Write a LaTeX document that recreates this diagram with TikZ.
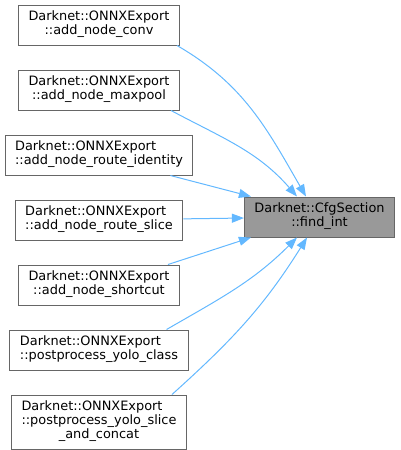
\documentclass[tikz,border=0pt]{standalone}
\usepackage{fontspec}
\setmainfont{DejaVu Sans}
\usepackage{tikz}
\usetikzlibrary{positioning, arrows.meta}
\definecolor{edgeblue}{HTML}{63B8FF}
\definecolor{boxgray}{HTML}{666666}
\definecolor{hlgray}{HTML}{999999}
\newcommand{\dlabel}[2]{\begin{tabular}{@{}l@{}}#1\\\multicolumn{1}{@{}c@{}}{#2}\end{tabular}}

\begin{document}
\begin{tikzpicture}[x=1pt, y=-1pt,
    caller/.style={rectangle, draw=boxgray, line width=1pt, fill=white, minimum height=40pt,
                   inner xsep=10pt, inner ysep=6pt, font=\fontsize{12.9}{14}\selectfont},
    callee/.style={caller, fill=hlgray},
    edge/.style={-{Triangle[length=12pt, width=9pt]}, line width=1pt, edgeblue}
  ]
  \useasboundingbox (0,0) rectangle (401,450);
  \node[caller] (conv) at (99,25) {\dlabel{Darknet::ONNXExport}{::add\_node\_conv}};
  \node[caller, below=24pt of conv] (maxpool) {\dlabel{Darknet::ONNXExport}{::add\_node\_maxpool}};
  \node[caller, below=24pt of maxpool] (ident) {\dlabel{Darknet::ONNXExport}{::add\_node\_route\_identity}};
  \node[caller, below=24pt of ident] (slice) {\dlabel{Darknet::ONNXExport}{::add\_node\_route\_slice}};
  \node[caller, below=24pt of slice] (short) {\dlabel{Darknet::ONNXExport}{::add\_node\_shortcut}};
  \node[caller, below=24pt of short] (yclass) {\dlabel{Darknet::ONNXExport}{::postprocess\_yolo\_class}};
  \node[caller, below=24pt of yclass] (yslice) {\dlabel{Darknet::ONNXExport\\::postprocess\_yolo\_slice}{\_and\_concat}};
  \node[callee] (findint) at (319.5,217) {\dlabel{Darknet::CfgSection}{::find\_int}};
  \draw[edge] ([xshift=-3pt]conv.south east) to[out=-30, in=120] ([xshift=-13.5pt]findint.north);
  \draw[edge] ([xshift=-9pt]maxpool.south east) to[out=-28, in=131] ([xshift=-22.5pt]findint.north);
  \draw[edge] ([xshift=-23pt]ident.south east) -- ([xshift=7pt]findint.north west);
  \draw[edge] (slice) -- (findint);
  \draw[edge] ([xshift=-12pt]short.north east) -- ([xshift=7pt]findint.south west);
  \draw[edge] ([xshift=-22pt]yclass.north east) to[out=30, in=-135] ([xshift=-22.5pt]findint.south);
  \draw[edge] ([xshift=-15pt]yslice.north east) to[out=42, in=-122] ([xshift=-12.5pt]findint.south);
\end{tikzpicture}
\end{document}
